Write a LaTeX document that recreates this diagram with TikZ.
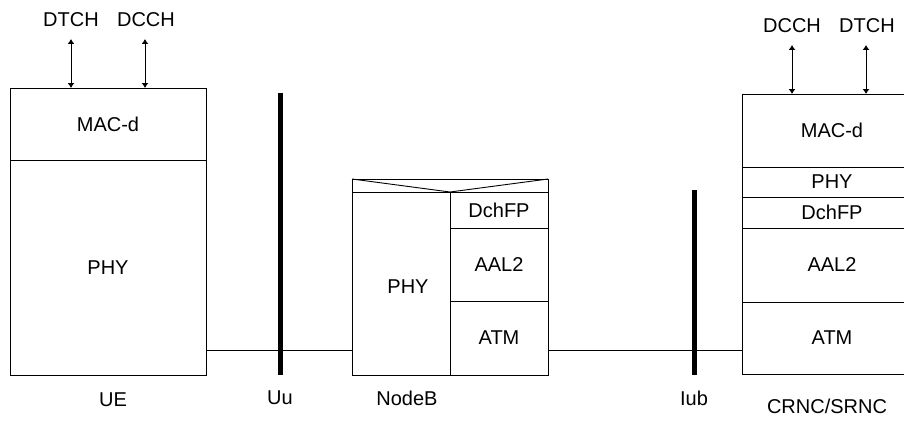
\documentclass[tikz,border=0pt]{standalone}
\usepackage{fontspec}
\setmainfont{Liberation Sans}
\usetikzlibrary{arrows.meta}
\begin{document}
\begin{tikzpicture}[x=1pt,y=-1pt,
  every node/.style={font=\fontsize{20}{24}\selectfont},
  layer/.style={draw, line width=0.9pt, inner sep=0pt, outer sep=0pt},
  lbl/.style={inner sep=0pt},
  bar/.style={line width=5pt},
  link/.style={line width=0.9pt},
  chan/.style={line width=0.9pt, {Latex[length=5pt,width=7pt]}-{Latex[length=5pt,width=7pt]}}]
\useasboundingbox (0,0) rectangle (904,420);
\clip (0,0) rectangle (904,420);
% UE
\node[layer, minimum width=196pt, minimum height=72pt] (uemac) at (108,124) {MAC-d};
\node[layer, minimum width=196pt, minimum height=215pt] (uephy) at (108,267.5) {PHY};
\node[lbl] (dtch1) at (71,20) {DTCH};
\node[lbl] (dcch1) at (146,20) {DCCH};
\coordinate (a1) at (71,39);
\coordinate (a2) at (145,39);
\draw[chan] (a1) -- (a1 |- uemac.north);
\draw[chan] (a2) -- (a2 |- uemac.north);
\node[lbl] (ue) at (113,400) {UE};
% Uu
\coordinate (uut) at (280,93);
\coordinate (uub) at (280,375);
\draw[bar] (uut) -- (uub);
\node[lbl] (uu) at (280,398) {Uu};
% NodeB
\node[layer, minimum width=196pt, minimum height=13pt] (nbhead) at (450,185.5) {};
\draw[line width=0.9pt] (nbhead.north west) -- (nbhead.south) -- (nbhead.north east);
\node[layer, minimum width=98pt, minimum height=183pt] (nbphy) at (401,283.5) {};
\node[lbl] (nbphyt) at (408,287) {PHY};
\node[layer, minimum width=98pt, minimum height=36pt] (nbfp) at (499,210) {DchFP};
\node[layer, minimum width=98pt, minimum height=73pt] (nbaal) at (499,264.5) {AAL2};
\node[layer, minimum width=98pt, minimum height=74pt] (nbatm) at (499,338) {ATM};
\node[lbl] (nodeb) at (407,398) {NodeB};
\coordinate (lk) at (0,350);
\draw[link] (uephy.east |- lk) -- (nbphy.west |- lk);
% Iub
\coordinate (iubt) at (694,190);
\coordinate (iubb) at (694,375);
\draw[bar] (iubt) -- (iubb);
\node[lbl] (iub) at (694,398) {Iub};
% CRNC/SRNC
\node[layer, minimum width=180pt, minimum height=73pt] (rmac) at (832,130.5) {MAC-d};
\node[layer, minimum width=180pt, minimum height=30pt] (rphy) at (832,182) {PHY};
\node[layer, minimum width=180pt, minimum height=31pt] (rfp) at (832,212.5) {DchFP};
\node[layer, minimum width=180pt, minimum height=74pt] (raal) at (832,265) {AAL2};
\node[layer, minimum width=180pt, minimum height=72pt] (ratm) at (832,338) {ATM};
\draw[link] (nbatm.east |- lk) -- (ratm.west |- lk);
\node[lbl] (dcch2) at (792,26) {DCCH};
\node[lbl] (dtch2) at (867,26) {DTCH};
\coordinate (b1) at (792,45);
\coordinate (b2) at (866,45);
\draw[chan] (b1) -- (b1 |- rmac.north);
\draw[chan] (b2) -- (b2 |- rmac.north);
\node[lbl] (crnc) at (827,406) {CRNC/SRNC};
\end{tikzpicture}
\end{document}
